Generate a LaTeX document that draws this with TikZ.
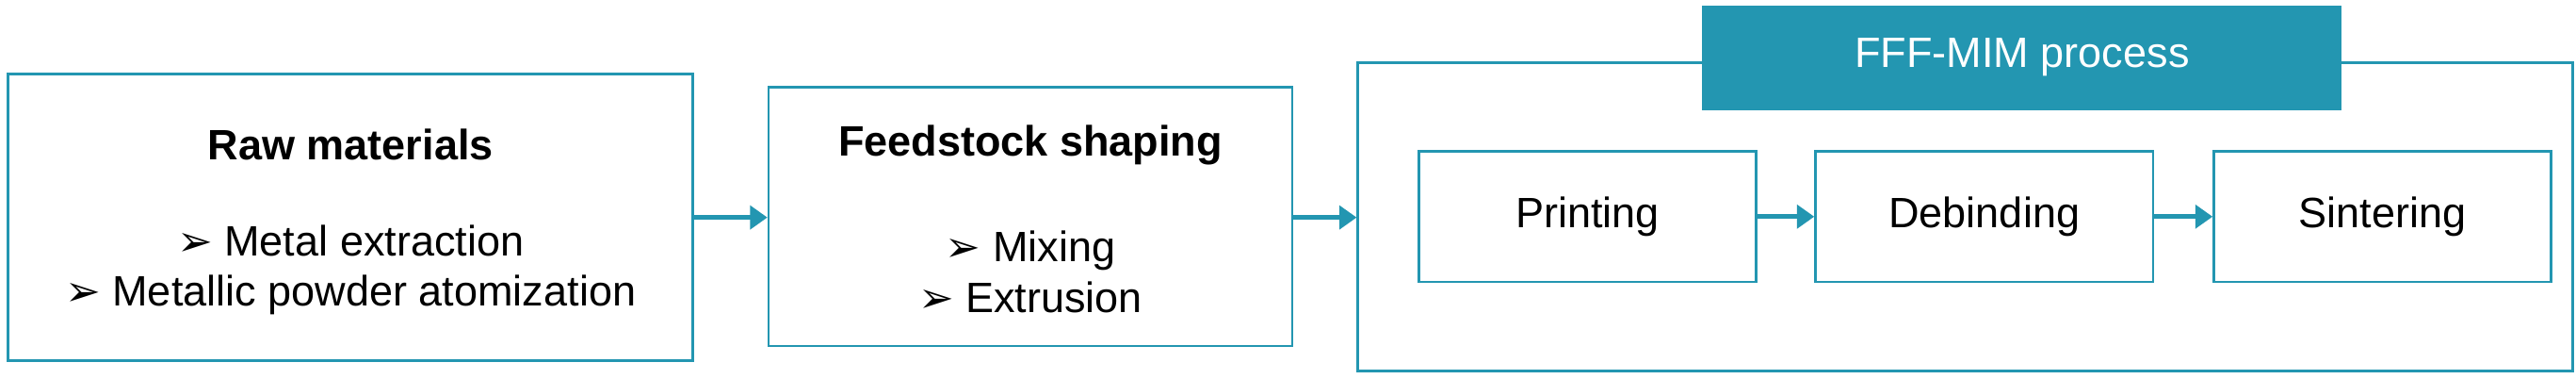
\documentclass[tikz,border=0pt]{standalone}
\usepackage{fontspec}
\setmainfont{Liberation Sans}
\newfontfamily\symfont{DejaVu Sans}
\usetikzlibrary{positioning,arrows.meta}
\definecolor{teal1}{HTML}{2396B1}
\newcommand{\itm}{{\symfont\char"27A2}\ }
\begin{document}
\begin{tikzpicture}[x=0.06cm,y=0.06cm,
  box/.style={draw=teal1,line width=2.6pt,fill=white,inner sep=0pt},
  txt/.style={font=\fontsize{44}{52}\selectfont,align=center,inner sep=0pt},
  flow/.style={-{Triangle[length=18pt,width=24pt]},draw=teal1,line width=5pt}]
  \useasboundingbox (0,0) rectangle (1565,230);
  % outer boxes
  \node[box,minimum width=416*0.06cm,minimum height=174*0.06cm] (raw) at (213,98) {};
  \node[box,minimum width=318*0.06cm,minimum height=157*0.06cm] (feed) at (626,98.5) {};
  \node[box,minimum width=738*0.06cm,minimum height=187*0.06cm] (fff) at (1194,98.5) {};
  \node[box,fill=teal1,minimum width=387*0.06cm,minimum height=62*0.06cm,
    font=\fontsize{44}{52}\selectfont,text=white] (head) at (1228.5,195) {FFF-MIM process};
  % texts in the first two boxes
  \node[txt,font=\fontsize{44}{52}\selectfont\bfseries] (rawt) at (213,142) {Raw materials};
  \node[txt] (rawi) at (213,66) {\itm Metal extraction\\\itm Metallic powder atomization};
  \node[txt,font=\fontsize{44}{52}\selectfont\bfseries] (feedt) at (626,142) {Feedstock shaping};
  \node[txt] (feedi) at (626,65) {\itm Mixing\\\itm Extrusion};
  % steps of the process
  \node[box,txt,minimum width=205*0.06cm,minimum height=79*0.06cm] (print) at (964.5,98.5) {Printing};
  \node[box,txt,minimum width=205*0.06cm,minimum height=79*0.06cm] (debind) at (1205.5,98.5) {Debinding};
  \node[box,txt,minimum width=205*0.06cm,minimum height=79*0.06cm] (sinter) at (1447.5,98.5) {Sintering};
  \draw[flow] (raw.east |- 0,98) -- (feed.west |- 0,98);
  \draw[flow] (feed.east |- 0,98) -- (fff.west |- 0,98);
  \draw[flow] (print) -- (debind);
  \draw[flow] (debind) -- (sinter);
\end{tikzpicture}
\end{document}
